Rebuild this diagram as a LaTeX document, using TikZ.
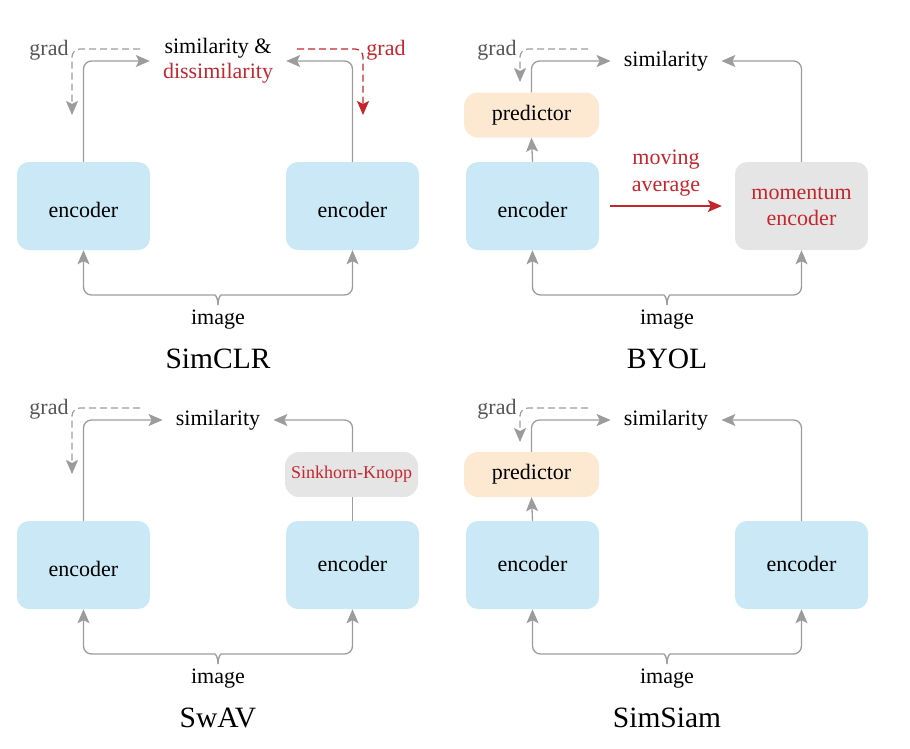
\documentclass[tikz,border=0pt]{standalone}
\usepackage{fontspec}
\setmainfont{Liberation Serif}
\usetikzlibrary{arrows.meta}

\definecolor{encblue}{HTML}{CAE8F5}
\definecolor{predorange}{HTML}{FDE8D2}
\definecolor{boxgray}{HTML}{E5E5E5}
\definecolor{linegray}{HTML}{9C9C9C}
\definecolor{gradgray}{HTML}{555555}
\definecolor{accent}{HTML}{C4262E}

\tikzset{
  encbox/.style={fill=encblue, rounded corners=12pt, minimum width=133pt, minimum height=88pt, inner sep=0pt},
  graybox/.style={fill=boxgray, rounded corners=12pt, minimum width=133pt, minimum height=88pt, inner sep=0pt, align=center, text=accent},
  predbox/.style={fill=predorange, rounded corners=14pt, minimum width=135pt, minimum height=45pt, inner sep=0pt},
  skbox/.style={fill=boxgray, rounded corners=14pt, minimum width=133pt, minimum height=45pt, inner sep=0pt, text=accent, font=\fontsize{18}{20}\selectfont},
  txt/.style={inner sep=0pt, align=center},
  simnode/.style={inner ysep=0pt, inner xsep=13pt, align=center},
  headtip/.style={-{Stealth[length=14pt,width=12pt,inset=3pt]}},
  conn/.style={draw=linegray, line width=1.3pt, rounded corners=8pt, headtip},
  plainline/.style={draw=linegray, line width=1.3pt},
  gradline/.style={draw=linegray, line width=1.2pt, dash pattern=on 7pt off 4pt, rounded corners=8pt, headtip},
  redgrad/.style={gradline, draw=accent},
  redarrow/.style={draw=accent, line width=1.2pt, headtip},
  gradlbl/.style={inner sep=0pt, text=gradgray},
  title/.style={inner sep=0pt, font=\fontsize{29.5}{32}\selectfont},
}

\begin{document}
\begin{tikzpicture}[x=1pt, y=-1pt, font=\fontsize{22}{25}\selectfont]
\useasboundingbox (0,0) rectangle (910,748);

% ---------------- SimCLR ----------------
\begin{scope}
  \node[encbox] (a-l) at (83.5,206) {};
  \node[encbox] (a-r) at (352.5,206) {};
  \node[txt] (a-lt) at (83.5,210) {encoder};
  \node[txt] (a-rt) at (352.5,210) {encoder};
  \node[simnode] (a-sim) at (218,61) {similarity \&\\ \textcolor{accent}{dissimilarity}};
  \draw[conn] (a-l.north) |- (a-sim.west);
  \draw[conn] (a-r.north) |- (a-sim.east);
  \coordinate (a-g1s) at (140,49);
  \coordinate (a-g1e) at (72,115);
  \draw[gradline] (a-g1s) -| (a-g1e);
  \node[gradlbl] (a-g1) at (49,50) {grad};
  \coordinate (a-g2s) at (297,49);
  \coordinate (a-g2e) at (363,115);
  \draw[redgrad] (a-g2s) -| (a-g2e);
  \node[gradlbl, text=accent] (a-g2) at (386,50) {grad};
  \coordinate (a-tip) at (218,305);
  \draw[conn] (a-tip) .. controls (218,297) and (215,295) .. (207,295) -- (83.5,295) -- (a-l.south);
  \draw[conn] (a-tip) .. controls (218,297) and (221,295) .. (229,295) -- (352.5,295) -- (a-r.south);
  \node[txt] (a-img) at (218,320) {image};
  \node[title] (a-title) at (218,359) {SimCLR};
\end{scope}

% ---------------- BYOL ----------------
\begin{scope}[shift={(449,0)}]
  \node[encbox] (b-l) at (83.5,206) {};
  \node[txt] (b-lt) at (83.5,210) {encoder};
  \node[graybox, font=\fontsize{22}{26}\selectfont] (b-m) at (352.5,206) {momentum\\encoder};
  \node[predbox] (b-p) at (82.5,115) {predictor};
  \node[simnode] (b-sim) at (217,61) {similarity};
  \draw[conn] (b-l.north) -- (b-p.south);
  \draw[conn] (b-p.north) |- (b-sim.west);
  \draw[conn] (b-m.north) |- (b-sim.east);
  \draw[redarrow, shorten <=11pt, shorten >=13pt] (b-l.east) -- (b-m.west);
  \node[txt, text=accent, font=\fontsize{22}{27}\selectfont] (b-ma) at (217,173) {moving\\average};
  \coordinate (b-gs) at (139,49);
  \coordinate (b-ge) at (71,82);
  \draw[gradline] (b-gs) -| (b-ge);
  \node[gradlbl] (b-g) at (48,50) {grad};
  \coordinate (b-tip) at (218,305);
  \draw[conn] (b-tip) .. controls (218,297) and (215,295) .. (207,295) -- (83.5,295) -- (b-l.south);
  \draw[conn] (b-tip) .. controls (218,297) and (221,295) .. (229,295) -- (352.5,295) -- (b-m.south);
  \node[txt] (b-img) at (218,320) {image};
  \node[title] (b-title) at (218,359) {BYOL};
\end{scope}

% ---------------- SwAV ----------------
\begin{scope}[shift={(0,359)}]
  \node[encbox] (c-l) at (83.5,206) {};
  \node[encbox] (c-r) at (352.5,206) {};
  \node[txt] (c-lt) at (83.5,210) {encoder};
  \node[txt] (c-rt) at (352.5,205) {encoder};
  \node[skbox] (c-sk) at (351.5,115.5) {Sinkhorn-Knopp};
  \node[simnode] (c-sim) at (218,61) {similarity};
  \draw[conn] (c-l.north) |- (c-sim.west);
  \draw[plainline] (c-r.north) -- (c-r.north |- c-sk.south);
  \draw[conn] (c-r.north |- c-sk.north) |- (c-sim.east);
  \coordinate (c-gs) at (140,49);
  \coordinate (c-ge) at (72,115);
  \draw[gradline] (c-gs) -| (c-ge);
  \node[gradlbl] (c-g) at (49,50) {grad};
  \coordinate (c-tip) at (218,305);
  \draw[conn] (c-tip) .. controls (218,297) and (215,295) .. (207,295) -- (83.5,295) -- (c-l.south);
  \draw[conn] (c-tip) .. controls (218,297) and (221,295) .. (229,295) -- (352.5,295) -- (c-r.south);
  \node[txt] (c-img) at (218,320) {image};
  \node[title] (c-title) at (218,359) {SwAV};
\end{scope}

% ---------------- SimSiam ----------------
\begin{scope}[shift={(449,359)}]
  \node[encbox] (d-l) at (83.5,206) {};
  \node[encbox] (d-r) at (352.5,206) {};
  \node[txt] (d-lt) at (83.5,205) {encoder};
  \node[txt] (d-rt) at (352.5,205) {encoder};
  \node[predbox] (d-p) at (82.5,115.5) {predictor};
  \node[simnode] (d-sim) at (217,61) {similarity};
  \draw[conn] (d-l.north) -- (d-p.south);
  \draw[conn] (d-p.north) |- (d-sim.west);
  \draw[conn] (d-r.north) |- (d-sim.east);
  \coordinate (d-gs) at (139,49);
  \coordinate (d-ge) at (71,83);
  \draw[gradline] (d-gs) -| (d-ge);
  \node[gradlbl] (d-g) at (48,50) {grad};
  \coordinate (d-tip) at (218,305);
  \draw[conn] (d-tip) .. controls (218,297) and (215,295) .. (207,295) -- (83.5,295) -- (d-l.south);
  \draw[conn] (d-tip) .. controls (218,297) and (221,295) .. (229,295) -- (352.5,295) -- (d-r.south);
  \node[txt] (d-img) at (218,320) {image};
  \node[title] (d-title) at (218,359) {SimSiam};
\end{scope}
\end{tikzpicture}
\end{document}
